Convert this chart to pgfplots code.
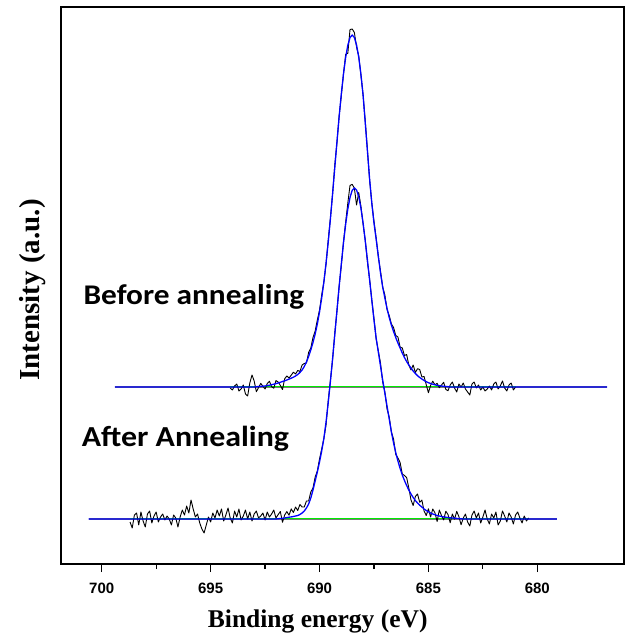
\documentclass[border=0pt]{standalone}
\usepackage{fontspec}
\usepackage{pgfplots}
\pgfplotsset{compat=1.18}
\setmainfont{Liberation Sans}
\newfontfamily\tnr{Liberation Serif}
\newfontfamily\calib[FakeStretch=1.1]{Carlito}
\definecolor{fitblue}{RGB}{0,0,255}
\definecolor{basegreen}{RGB}{0,235,0}
\definecolor{lgray}{RGB}{120,120,120}

\begin{document}
\begin{tikzpicture}
\begin{axis}[
  scale only axis,
  width=563pt, height=557pt,
  xmin=676.02, xmax=701.87, x dir=reverse,
  ymin=0, ymax=557,
  xtick={680,685,690,695,700},
  minor xtick={682.5,687.5,692.5,697.5},
  ytick=\empty,
  xtick pos=bottom,
  tick align=outside,
  major tick length=8pt, minor tick length=5pt,
  every tick/.style={black, line width=1.2pt},
  axis line style={line width=2pt},
  /pgf/number format/assume math mode=true,
  xticklabel style={font=\fontsize{15}{18}\selectfont\bfseries, anchor=base, yshift=-21pt},
  xlabel={Binding energy (eV)},
  xlabel style={font=\tnr\bfseries\fontsize{25.5}{30}\selectfont, at={(axis description cs:0.456,-0.1136)}, anchor=base},
  ylabel={Intensity (a.u.)},
  ylabel style={font=\tnr\bfseries\fontsize{29}{34}\selectfont, at={(axis description cs:-0.0497,0.492)}, anchor=center},
  clip=false,
  every axis plot/.append style={line join=round},
]

% long flat lines under the fits
\addplot[lgray, line width=2.2pt] coordinates {(699.4,177) (676.8,177)};
\addplot[lgray, line width=2.2pt] coordinates {(700.6,45) (679.1,45)};

% baselines
\addplot[basegreen, line width=1pt] coordinates {(694.1,177) (681.0,177)};
\addplot[basegreen, line width=1pt] coordinates {(698.7,45) (680.4,45)};

% before annealing, measured
\addplot[black, line width=0.9pt] coordinates {
(694.1,176) (694.0,174) (693.9,178) (693.8,180) (693.7,173) (693.6,175) (693.5,179) (693.4,170) (693.3,168) (693.2,181)
(693.1,189) (693.0,183) (692.9,172.3) (692.8,176.4) (692.7,180.6) (692.6,177.8) (692.5,175) (692.4,180.4) (692.3,182.8) (692.2,177.3)
(692.1,175.8) (692.0,183.4) (691.9,182) (691.8,178.7) (691.7,174.5) (691.6,185.2) (691.5,188) (691.4,185.9) (691.3,188.8) (691.2,191.8)
(691.1,190) (691.0,193.5) (690.9,192.5) (690.8,199) (690.7,200.5) (690.6,201) (690.5,211.5) (690.4,216) (690.3,226.5) (690.2,233)
(690.1,244) (690.0,254) (689.9,269) (689.8,282) (689.7,300) (689.6,324) (689.5,346) (689.4,370) (689.3,399) (689.2,421)
(689.1,448) (689.0,468) (688.9,490) (688.8,509.5) (688.7,510.8) (688.6,534.4) (688.5,535)
(688.4,531.5) (688.3,517) (688.2,508) (688.1,489) (688.0,469) (687.9,443) (687.8,414) (687.7,384) (687.6,361) (687.5,343)
(687.4,326) (687.3,307) (687.2,293) (687.1,277) (687.0,269) (686.9,254.5) (686.8,248.5) (686.7,240) (686.6,236.5) (686.5,228.5)
(686.4,227) (686.3,217) (686.2,216) (686.1,208.5) (686.0,209.5) (685.9,199) (685.8,194) (685.7,199) (685.6,191.5) (685.5,195.3)
(685.4,194.5) (685.3,187) (685.2,187.5) (685.1,179.3) (685.0,171.3) (684.9,178.5) (684.8,182.8) (684.7,179.2) (684.6,180.7) (684.5,176.3)
(684.4,179) (684.3,181.7) (684.2,174.5) (684.1,173.3) (684.0,179) (683.9,182) (683.8,176) (683.7,172) (683.6,180) (683.5,177)
(683.4,181) (683.3,175) (683.2,172) (683.1,169) (683.0,180) (682.9,182) (682.8,176) (682.7,179) (682.6,174) (682.5,177)
(682.4,173) (682.3,175) (682.2,178) (682.1,174) (682.0,180) (681.9,182) (681.8,175) (681.7,178) (681.6,183) (681.5,176)
(681.4,173) (681.3,179) (681.2,181) (681.1,174) (681.0,177)
};

% after annealing, measured
\addplot[black, line width=0.9pt] coordinates {
(698.7,42) (698.6,36) (698.5,49) (698.4,51) (698.3,39) (698.2,52) (698.1,43) (698.0,37) (697.9,50) (697.8,53)
(697.7,41) (697.6,48) (697.5,52) (697.4,42) (697.3,47) (697.2,50) (697.1,44) (697.0,48) (696.9,45) (696.8,39)
(696.7,49) (696.6,46) (696.5,37) (696.4,47) (696.3,54) (696.2,49) (696.1,58) (696.0,51) (695.9,64) (695.8,55)
(695.7,47) (695.6,50) (695.5,41) (695.4,35) (695.3,31) (695.2,39) (695.1,47) (695.0,42) (694.9,51) (694.8,46)
(694.7,54) (694.6,48) (694.5,55) (694.4,43) (694.3,49) (694.2,56) (694.1,46) (694.0,41) (693.9,53) (693.8,47)
(693.7,55) (693.6,44) (693.5,48) (693.4,54) (693.3,45) (693.2,52) (693.1,43) (693.0,50) (692.9,53) (692.8,46)
(692.7,48) (692.6,51) (692.5,44) (692.4,52) (692.3,47) (692.2,50) (692.1,54) (692.0,46) (691.9,49.3) (691.8,52.5)
(691.7,41.7) (691.6,49) (691.5,52.4) (691.4,48.8) (691.3,55.1) (691.2,51.5) (691.1,57) (691.0,53.5) (690.9,59.5) (690.8,57)
(690.7,57) (690.6,63) (690.5,63) (690.4,72) (690.3,76) (690.2,87) (690.1,93) (690.0,105) (689.9,115) (689.8,125.5)
(689.7,139.1) (689.6,163.4) (689.5,183.6) (689.4,204.2) (689.3,230.9) (689.2,253) (689.1,278) (689.0,297.9) (688.9,322.1) (688.8,341.7)
(688.7,361.1) (688.6,378.5) (688.5,379.6) (688.4,376) (688.3,359) (688.2,371.5) (688.1,358) (688.0,340) (687.9,324) (687.8,302)
(687.7,285) (687.6,264) (687.5,246) (687.4,225) (687.3,213) (687.2,201) (687.1,182) (687.0,172) (686.9,155) (686.8,147)
(686.7,132) (686.6,125) (686.5,109.5) (686.4,106) (686.3,101.5) (686.2,90) (686.1,88.5) (686.0,86.5) (685.9,76) (685.8,64)
(685.7,58.5) (685.6,67.5) (685.5,70) (685.4,61.7) (685.3,64) (685.2,53) (685.1,48.5) (685.0,55.2) (684.9,47) (684.8,55)
(684.7,51.2) (684.6,42.5) (684.5,54) (684.4,48.5) (684.3,44.1) (684.2,52.8) (684.1,49.5) (684.0,41.2) (683.9,50) (683.8,44.8)
(683.7,52.6) (683.6,47.4) (683.5,39.2) (683.4,46) (683.3,50) (683.2,42) (683.1,38) (683.0,49) (682.9,53) (682.8,46)
(682.7,51) (682.6,41) (682.5,47) (682.4,54) (682.3,45) (682.2,40) (682.1,50) (682.0,46) (681.9,52) (681.8,39)
(681.7,43) (681.6,53) (681.5,48) (681.4,42) (681.3,51) (681.2,47) (681.1,40) (681.0,49) (680.9,52) (680.8,46)
(680.7,41) (680.6,48) (680.5,43) (680.4,46)
};

% before annealing, fit
\addplot[fitblue, line width=1.3pt] coordinates {
(699.4,177) (693.0,177) (692.9,177.3) (692.8,177.4) (692.7,177.6) (692.6,177.8) (692.5,178) (692.4,178.4) (692.3,178.8) (692.2,179.3)
(692.1,179.8) (692.0,180.4) (691.9,181) (691.8,181.7) (691.7,182.5) (691.6,183.2) (691.5,184) (691.4,184.9) (691.3,185.8) (691.2,186.8)
(691.1,188) (691.0,189.5) (690.9,191.5) (690.8,194) (690.7,197.5) (690.6,202) (690.5,207.5) (690.4,214) (690.3,221.5) (690.2,230)
(690.1,240) (690.0,252) (689.9,266) (689.8,282) (689.7,301) (689.6,322) (689.5,345) (689.4,370) (689.3,396) (689.2,422)
(689.1,447) (689.0,470) (688.9,490) (688.8,506.5) (688.7,518.8) (688.6,526.4) (688.5,529) (688.4,526.5) (688.3,519) (688.2,507)
(688.1,490) (688.0,469) (687.9,441) (687.8,413) (687.7,385) (687.6,361) (687.5,341) (687.4,325) (687.3,308) (687.2,291)
(687.1,277) (687.0,266) (686.9,255.5) (686.8,246.5) (686.7,239) (686.6,232.5) (686.5,226.5) (686.4,221) (686.3,216) (686.2,211)
(686.1,206.5) (686.0,202.5) (685.9,199) (685.8,196) (685.7,193) (685.6,190.5) (685.5,188.3) (685.4,186.5) (685.3,185) (685.2,183.5)
(685.1,182.3) (685.0,181.3) (684.9,180.5) (684.8,179.8) (684.7,179.2) (684.6,178.7) (684.5,178.3) (684.4,178) (684.3,177.7) (684.2,177.5)
(684.1,177.3) (684.0,177) (676.8,177)
};

% after annealing, fit
\addplot[fitblue, line width=1.3pt] coordinates {
(700.6,45) (692.0,45) (691.9,45.3) (691.8,45.5) (691.7,45.7) (691.6,46) (691.5,46.4) (691.4,46.8) (691.3,47.1) (691.2,47.5)
(691.1,48) (691.0,48.5) (690.9,49.5) (690.8,51) (690.7,53) (690.6,56) (690.5,60) (690.4,66) (690.3,74) (690.2,83)
(690.1,92) (690.0,102) (689.9,113) (689.8,125.5) (689.7,142.1) (689.6,161.4) (689.5,182.6) (689.4,205.2) (689.3,228.9) (689.2,253)
(689.1,277) (689.0,299.9) (688.9,321.1) (688.8,339.7) (688.7,355.1) (688.6,366.5) (688.5,373.6) (688.4,376) (688.3,374) (688.2,367.5)
(688.1,356) (688.0,341) (687.9,323) (687.8,304) (687.7,284) (687.6,264) (687.5,244) (687.4,226) (687.3,212) (687.2,198)
(687.1,184) (687.0,171) (686.9,158) (686.8,145) (686.7,132) (686.6,121) (686.5,111.5) (686.4,103) (686.3,95.5) (686.2,89)
(686.1,83.5) (686.0,78.5) (685.9,74) (685.8,70) (685.7,66.5) (685.6,63.5) (685.5,61) (685.4,58.7) (685.3,57) (685.2,55)
(685.1,53.5) (685.0,52.2) (684.9,51) (684.8,50) (684.7,49.2) (684.6,48.5) (684.5,48) (684.4,47.5) (684.3,47.1) (684.2,46.8)
(684.1,46.5) (684.0,46.2) (683.9,46) (683.8,45.8) (683.7,45.6) (683.6,45.4) (683.5,45.2) (683.4,45) (679.1,45)
};

\node[anchor=base west, inner sep=0pt, font=\calib\bfseries\fontsize{28.5}{32}\selectfont] at (axis cs:700.84,259) {Before annealing};
\node[anchor=base west, inner sep=0pt, font=\calib\bfseries\fontsize{29}{32}\selectfont] at (axis cs:700.92,117.3) {After Annealing};

\end{axis}
\path ([xshift=-61pt,yshift=-75pt]current axis.south west) rectangle ([xshift=1pt,yshift=7pt]current axis.north east);
\end{tikzpicture}
\end{document}
